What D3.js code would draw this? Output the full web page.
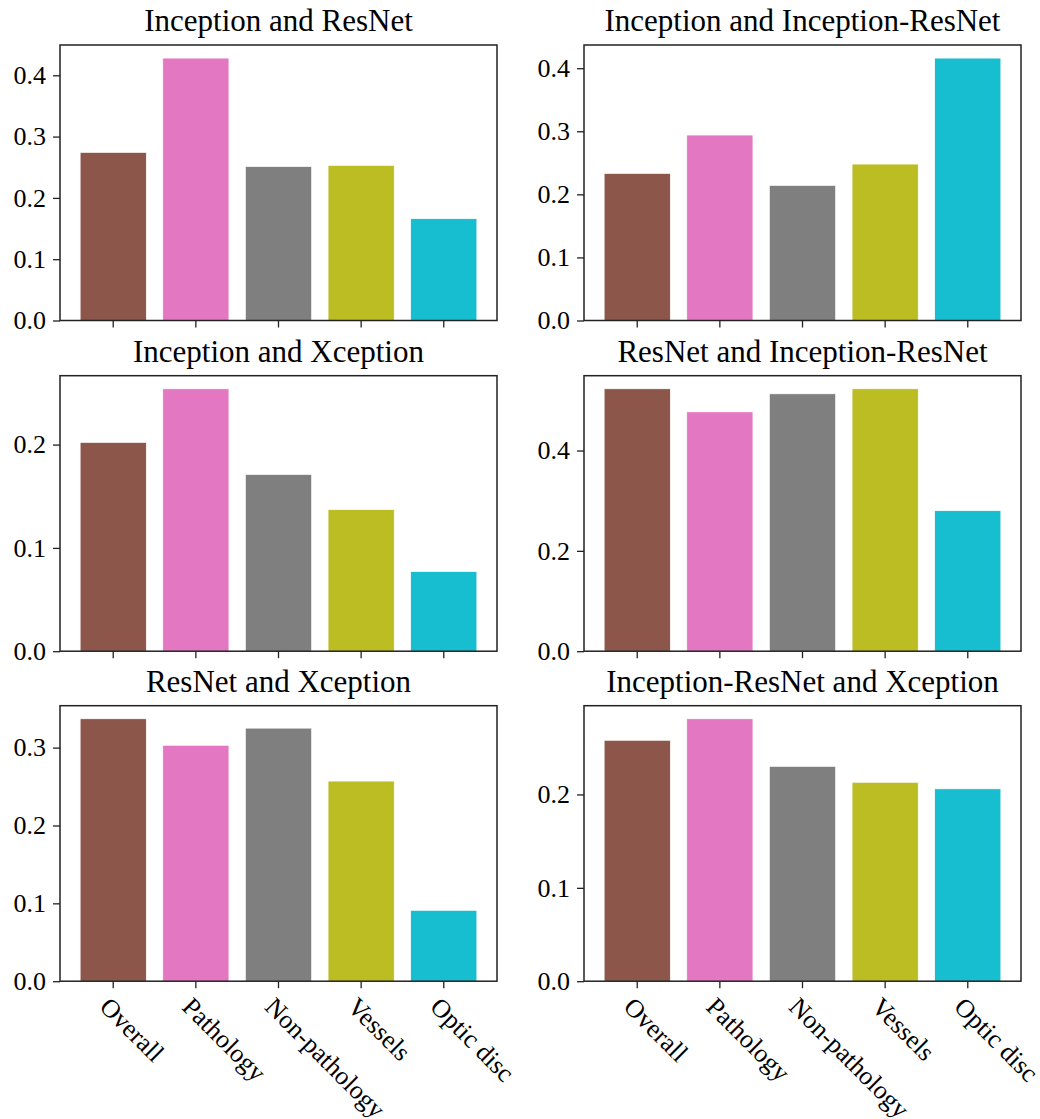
<!DOCTYPE html>
<html>
<head>
<meta charset="utf-8">
<script src="https://cdn.jsdelivr.net/npm/d3@7"></script>
<style>
  html, body { margin: 0; padding: 0; background: #fff; }
  svg { display: block; font-family: "Liberation Serif", "Times New Roman", serif; }
</style>
</head>
<body>
<svg id="chart" width="1040" height="1119"></svg>
<script>
// Segment categories shared by every panel
const categories = ["Overall", "Pathology", "Non-pathology", "Vessels", "Optic disc"];
const barColors = ["#8c564b", "#e377c2", "#7f7f7f", "#bcbd22", "#17becf"];

// Panel titles (model pairs)
const titles = [
  "Inception and ResNet",
  "Inception and Inception-ResNet",
  "Inception and Xception",
  "ResNet and Inception-ResNet",
  "ResNet and Xception",
  "Inception-ResNet and Xception"
];

// Values per pair
const inceptionResnet       = [0.274, 0.428, 0.251, 0.253, 0.166];
const inceptionIncResnet    = [0.233, 0.294, 0.214, 0.248, 0.416];
const inceptionXception     = [0.202, 0.254, 0.171, 0.137, 0.077];
const resnetIncResnet       = [0.523, 0.477, 0.513, 0.523, 0.280];
const resnetXception        = [0.337, 0.303, 0.325, 0.257, 0.091];
const incResnetXception     = [0.258, 0.281, 0.230, 0.213, 0.206];

// Y tick values per panel
const ticks1 = [0.0, 0.1, 0.2, 0.3, 0.4];
const ticks2 = [0.0, 0.1, 0.2, 0.3, 0.4];
const ticks3 = [0.0, 0.1, 0.2];
const ticks4 = [0.0, 0.2, 0.4];
const ticks5 = [0.0, 0.1, 0.2, 0.3];
const ticks6 = [0.0, 0.1, 0.2];

const panels = [
  { title: titles[0], values: inceptionResnet,    ticks: ticks1 },
  { title: titles[1], values: inceptionIncResnet, ticks: ticks2 },
  { title: titles[2], values: inceptionXception,  ticks: ticks3 },
  { title: titles[3], values: resnetIncResnet,    ticks: ticks4 },
  { title: titles[4], values: resnetXception,     ticks: ticks5 },
  { title: titles[5], values: incResnetXception,  ticks: ticks6 }
];

// Grid geometry
const colX = [60, 584];
const rowY = [45, 375.7, 705.7];
const plotW = 437;
const plotH = 275.5;
const spineColor = "#222";
const tickLen = 7;
const tickFont = 26;
const titleFont = 31;
const fontStack = "'Liberation Serif', 'Times New Roman', serif";

const svg = d3.select("#chart");

panels.forEach((p, i) => {
  const col = i % 2, row = Math.floor(i / 2);
  const g = svg.append("g").attr("transform", `translate(${colX[col]},${rowY[row]})`);

  const x = d3.scaleBand()
    .domain(categories)
    .range([0, plotW])
    .paddingInner(0.2)
    .paddingOuter(0.244);

  const y = d3.scaleLinear()
    .domain([0, d3.max(p.values) * 1.05])
    .range([plotH, 0]);

  // Bars
  g.selectAll("rect.bar")
    .data(p.values)
    .join("rect")
    .attr("class", "bar")
    .attr("x", (d, j) => x(categories[j]))
    .attr("width", x.bandwidth())
    .attr("y", d => y(d))
    .attr("height", d => y(0) - y(d))
    .attr("fill", (d, j) => barColors[j])
    .attr("stroke", "#fff")
    .attr("stroke-width", 0.6);

  // Y axis
  const yAxis = g.append("g")
    .call(d3.axisLeft(y).tickValues(p.ticks).tickSize(tickLen).tickPadding(7).tickFormat(d3.format(".1f")));
  yAxis.select(".domain").remove();
  yAxis.selectAll(".tick line").attr("stroke", spineColor).attr("stroke-width", 1.3);
  yAxis.selectAll(".tick text")
    .attr("font-family", fontStack)
    .attr("font-size", tickFont)
    .attr("fill", "#000");

  // X axis
  const isBottom = row === 2;
  const xAxis = g.append("g")
    .attr("transform", `translate(0,${plotH})`)
    .call(d3.axisBottom(x).tickSize(tickLen).tickSizeOuter(0).tickFormat(isBottom ? (d => d) : () => ""));
  xAxis.select(".domain").remove();
  xAxis.selectAll(".tick line").attr("stroke", spineColor).attr("stroke-width", 1.3);
  if (isBottom) {
    xAxis.selectAll(".tick text")
      .attr("font-family", fontStack)
      .attr("font-size", tickFont)
      .attr("fill", "#000")
      .attr("text-anchor", "start")
      .attr("y", 0)
      .attr("dy", "0.82em")
      .attr("transform", `translate(0,${tickLen + 5}) rotate(45)`);
  } else {
    xAxis.selectAll(".tick text").remove();
  }

  // Frame
  g.append("rect")
    .attr("x", 0).attr("y", 0)
    .attr("width", plotW).attr("height", plotH)
    .attr("fill", "none")
    .attr("stroke", spineColor)
    .attr("stroke-width", 1.5);

  // Title
  g.append("text")
    .attr("x", plotW / 2)
    .attr("y", -14)
    .attr("text-anchor", "middle")
    .attr("font-family", fontStack)
    .attr("font-size", titleFont)
    .attr("fill", "#000")
    .text(p.title);
});
</script>
</body>
</html>
